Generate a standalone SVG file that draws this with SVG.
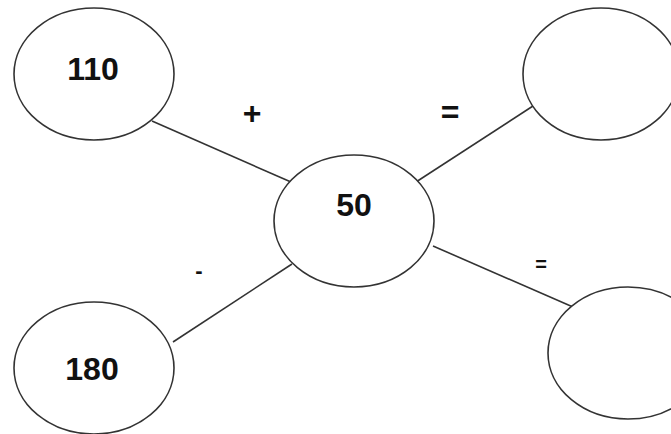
<svg xmlns="http://www.w3.org/2000/svg" width="671" height="434" viewBox="0 0 671 434">
<style>
.n{fill:#fff;stroke:#333;stroke-width:1.6}
.c line{stroke:#333;stroke-width:1.6}
.t{font-family:"Liberation Sans",Arial,sans-serif;font-weight:bold;fill:#111;text-anchor:middle}
</style>
<rect width="671" height="434" fill="#fff"/>
<g class="c" id="connectors">
<line x1="152" y1="121" x2="291" y2="182"/>
<line x1="416" y1="182" x2="533" y2="106"/>
<line x1="173" y1="342" x2="292" y2="264"/>
<line x1="433" y1="246" x2="573" y2="307"/>
</g>
<g id="n110"><ellipse class="n" cx="94" cy="74" rx="80" ry="66"/><text class="t" x="93" y="80" font-size="32">110</text></g>
<g id="nTR"><ellipse class="n" cx="601" cy="74" rx="78" ry="66"/></g>
<g id="n50"><ellipse class="n" cx="354" cy="221" rx="80" ry="66"/><text class="t" x="354" y="216" font-size="32">50</text></g>
<g id="n180"><ellipse class="n" cx="94" cy="368" rx="80" ry="66"/><text class="t" x="92" y="380" font-size="32">180</text></g>
<g id="nBR"><ellipse class="n" cx="628" cy="353" rx="80" ry="66"/></g>
<g id="labels">
<text class="t" x="252" y="124" font-size="32">+</text>
<text class="t" x="450" y="123" font-size="32">=</text>
<text class="t" x="199" y="278" font-size="22">-</text>
<text class="t" x="541" y="271" font-size="20">=</text>
</g>
</svg>
